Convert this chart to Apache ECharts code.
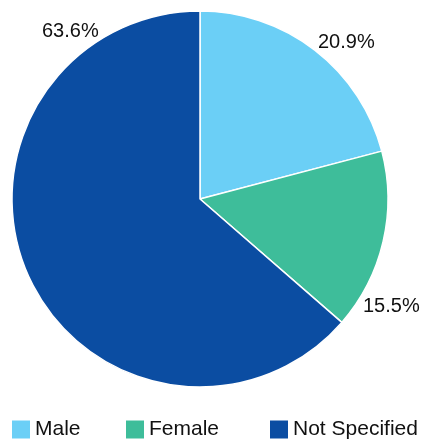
<!DOCTYPE html>
<html>
<head>
<meta charset="utf-8">
<script src="https://cdn.jsdelivr.net/npm/echarts@6/dist/echarts.min.js"></script>
<style>html,body{margin:0;padding:0;background:#fff;}#c{width:423px;height:439px;}</style>
</head>
<body>
<div id="c"></div>
<script>
const categories = ['Male', 'Female', 'Not Specified'];
const values = [20.9, 15.5, 63.6];
const colors = ['#6BCFF6', '#3EBD9A', '#0B4DA2'];
const labelPos = [[318, 42], [363, 306], [42, 31]];
const legendLeft = [12, 126, 270];

const chart = echarts.init(document.getElementById('c'), null, {renderer: 'canvas'});
chart.setOption({
  animation: false,
  color: colors,
  legend: categories.map((c, i) => ({
    left: legendLeft[i], top: 419, padding: 0,
    itemWidth: 18, itemHeight: 18,
    icon: 'rect',
    itemStyle: {borderWidth: 0},
    selectedMode: false,
    textStyle: {fontFamily: 'Liberation Sans, Arial, sans-serif', fontSize: 21, color: '#111', padding: [2, 0, 0, 0]},
    data: [c]
  })),
  series: [{
    type: 'pie',
    center: [200, 199],
    radius: [0, 188],
    startAngle: 90,
    clockwise: true,
    avoidLabelOverlap: false,
    itemStyle: {borderColor: '#fff', borderWidth: 1.5},
    label: {
      show: true, position: 'inside', overflow: 'none',
      formatter: p => p.value.toFixed(1) + '%',
      fontFamily: 'Liberation Sans, Arial, sans-serif', fontSize: 20, color: '#111'
    },
    labelLine: {show: false},
    labelLayout: p => ({x: labelPos[p.dataIndex][0], y: labelPos[p.dataIndex][1], align: 'left', verticalAlign: 'middle', hideOverlap: false}),
    data: categories.map((c, i) => ({name: c, value: values[i]}))
  }]
});
</script>
</body>
</html>
